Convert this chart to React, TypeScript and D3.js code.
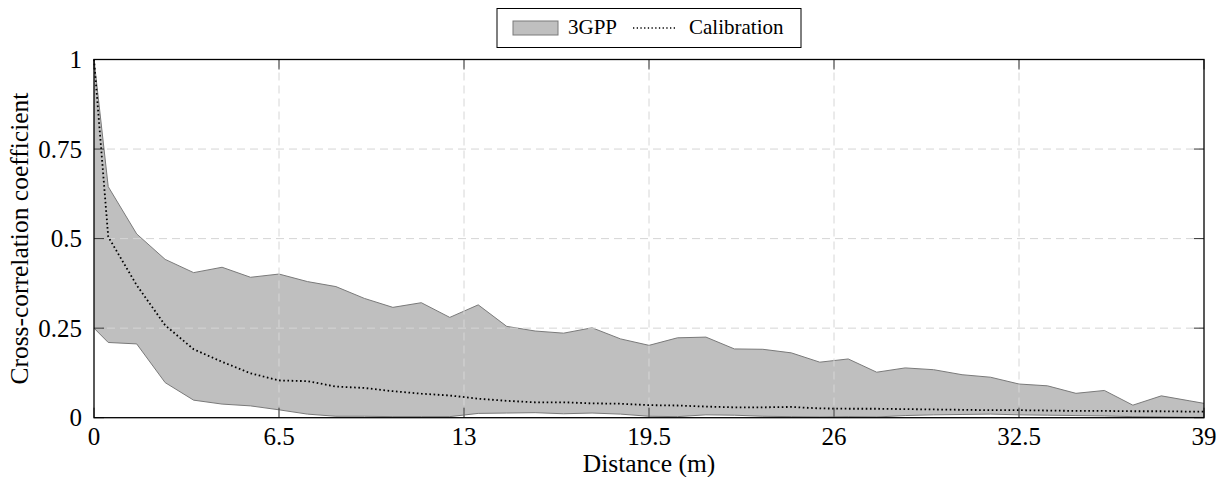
import React from "react";
import * as d3 from "d3";

const distances = [0, 0.5, 1.5, 2.5, 3.5, 4.5, 5.5, 6.5, 7.5, 8.5, 9.5, 10.5, 11.5, 12.5, 13.5, 14.5, 15.5, 16.5, 17.5, 18.5, 19.5, 20.5, 21.5, 22.5, 23.5, 24.5, 25.5, 26.5, 27.5, 28.5, 29.5, 30.5, 31.5, 32.5, 33.5, 34.5, 35.5, 36.5, 37.5, 38.5, 39];
const upper3GPP = [1.0, 0.645, 0.513, 0.442, 0.405, 0.42, 0.392, 0.401, 0.38, 0.366, 0.333, 0.308, 0.321, 0.28, 0.315, 0.255, 0.242, 0.236, 0.251, 0.22, 0.202, 0.223, 0.225, 0.192, 0.191, 0.181, 0.155, 0.164, 0.127, 0.139, 0.134, 0.12, 0.113, 0.094, 0.089, 0.068, 0.076, 0.035, 0.061, 0.047, 0.04];
const lower3GPP = [0.25, 0.21, 0.206, 0.098, 0.049, 0.038, 0.033, 0.022, 0.01, 0.004, 0.004, 0.003, 0.003, 0.003, 0.012, 0.013, 0.014, 0.011, 0.013, 0.01, 0.004, 0.003, 0.008, 0.007, 0.004, 0.003, 0.002, 0.003, 0.002, 0.006, 0.008, 0.009, 0.01, 0.008, 0.007, 0.006, 0.005, 0.003, 0.002, 0.001, 0.001];
const calibration = [1.0, 0.505, 0.37, 0.258, 0.191, 0.156, 0.124, 0.104, 0.102, 0.087, 0.083, 0.074, 0.067, 0.062, 0.053, 0.047, 0.043, 0.043, 0.04, 0.039, 0.035, 0.034, 0.031, 0.029, 0.029, 0.03, 0.026, 0.025, 0.025, 0.024, 0.023, 0.022, 0.021, 0.021, 0.02, 0.019, 0.019, 0.018, 0.018, 0.017, 0.017];
const xTicks = [0, 6.5, 13, 19.5, 26, 32.5, 39];
const yTicks = [0, 0.25, 0.5, 0.75, 1];
const yTickLabels = ["0", "0.25", "0.5", "0.75", "1"];
const seriesNames = ["3GPP", "Calibration"];
const xLabel = "Distance (m)";
const yLabel = "Cross-correlation coefficient";

export default function App() {
  const W = 1228, H = 477;
  const left = 94, right = 1204, top = 59.5, bottom = 417.7;
  const x = d3.scaleLinear().domain([0, 39]).range([left, right]);
  const y = d3.scaleLinear().domain([0, 1]).range([bottom, top]);
  const idx = distances.map((_, i) => i);
  const area = d3.area<number>().x(i => x(distances[i])).y0(i => y(lower3GPP[i])).y1(i => y(upper3GPP[i]));
  const upLine = d3.line<number>().x(i => x(distances[i])).y(i => y(upper3GPP[i]));
  const loLine = d3.line<number>().x(i => x(distances[i])).y(i => y(lower3GPP[i]));
  const calLine = d3.line<number>().x(i => x(distances[i])).y(i => y(calibration[i]));
  const serif = "'Liberation Serif', 'Times New Roman', serif";
  const tickLen = 10;
  const textStyle = { fontFamily: serif };
  return (
    <svg width={W} height={H} style={{ position: "absolute", left: 0, top: 0, background: "#fff" }}>
      <rect x={0} y={0} width={W} height={H} fill="#fff" />
      <path d={area(idx) || ""} fill="#000" fillOpacity={0.25} stroke="none" />
      <path d={upLine(idx) || ""} fill="none" stroke="#7a7a7a" strokeWidth={1} />
      <path d={loLine(idx) || ""} fill="none" stroke="#7a7a7a" strokeWidth={1} />
      {xTicks.slice(1, -1).map(t => (
        <line key={"gx" + t} x1={x(t)} x2={x(t)} y1={top} y2={bottom} stroke="#d6d6d6" strokeWidth={1} strokeDasharray="8,5" />
      ))}
      {yTicks.slice(1, -1).map(t => (
        <line key={"gy" + t} x1={left} x2={right} y1={y(t)} y2={y(t)} stroke="#d6d6d6" strokeWidth={1} strokeDasharray="8,5" />
      ))}
      <path d={calLine(idx) || ""} fill="none" stroke="#000" strokeWidth={1.8} strokeDasharray="1.6,2.6" />
      {xTicks.map(t => (
        <g key={"tx" + t}>
          <line x1={x(t)} x2={x(t)} y1={bottom} y2={bottom - tickLen} stroke="#333" strokeWidth={1} />
          <line x1={x(t)} x2={x(t)} y1={top} y2={top + tickLen} stroke="#333" strokeWidth={1} />
          <text x={x(t)} y={bottom + 27} textAnchor="middle" style={textStyle} fontSize={25}>{String(t)}</text>
        </g>
      ))}
      {yTicks.map((t, i) => (
        <g key={"ty" + t}>
          <line x1={left} x2={left + tickLen} y1={y(t)} y2={y(t)} stroke="#333" strokeWidth={1} />
          <line x1={right} x2={right - tickLen} y1={y(t)} y2={y(t)} stroke="#333" strokeWidth={1} />
          <text x={left - 12} y={y(t) + 8.5} textAnchor="end" style={textStyle} fontSize={25}>{yTickLabels[i]}</text>
        </g>
      ))}
      <rect x={left} y={top} width={right - left} height={bottom - top} fill="none" stroke="#000" strokeWidth={1.3} />
      <text x={(left + right) / 2} y={472} textAnchor="middle" style={textStyle} fontSize={25.5}>{xLabel}</text>
      <text transform={`translate(28,${(top + bottom) / 2}) rotate(-90)`} textAnchor="middle" style={textStyle} fontSize={25.5}>{yLabel}</text>
      <rect x={497} y={8.5} width={304} height={39} fill="#fff" stroke="#000" strokeWidth={1} />
      <rect x={513} y={21} width={45} height={14} fill="#bfbfbf" stroke="#7a7a7a" strokeWidth={1} />
      <text x={568} y={33.5} style={textStyle} fontSize={21}>{seriesNames[0]}</text>
      <line x1={633} x2={677} y1={28} y2={28} stroke="#000" strokeWidth={1.5} strokeDasharray="1.3,2.4" />
      <text x={689} y={33.5} style={textStyle} fontSize={21}>{seriesNames[1]}</text>
    </svg>
  );
}
